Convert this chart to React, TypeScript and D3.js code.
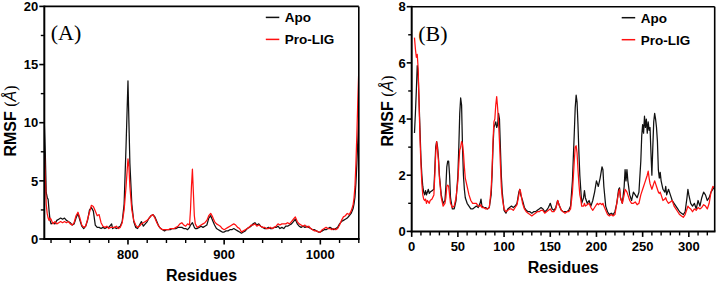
import React from "react";
import * as d3 from "d3";

// ---------- Panel A data (residues 713-1040) ----------
const residuesA = [713,714,715,716,717,718,719,720,722,724,726,728,730,732,734,736,738,740,742,744,746,748,750,752,754,756,758,760,762,764,766,768,770,772,774,776,778,780,782,783,784,786,788,790,792,794,796,798,800,801,802,804,806,808,810,812,814,816,818,820,822,824,826,828,830,832,834,836,838,840,842,844,846,848,850,852,854,856,858,860,862,864,865,866,867,868,869,870,872,874,876,878,880,882,884,886,888,890,892,894,896,898,900,902,904,906,908,910,912,914,916,918,920,922,924,926,928,930,932,934,936,938,940,942,944,946,948,950,952,954,956,958,960,962,964,966,968,970,972,974,976,978,980,982,984,986,988,990,992,994,996,998,1000,1002,1004,1006,1008,1010,1012,1014,1016,1018,1020,1022,1024,1026,1028,1030,1032,1034,1035,1036,1037,1038,1039,1040];
const apoA = [10.0,7.5,4.0,3.6,3.4,2.4,1.6,1.3,1.4,1.3,1.6,1.7,1.8,1.7,1.8,1.6,1.5,1.4,1.2,1.3,1.8,2.2,1.6,1.1,0.9,1.1,1.6,2.5,2.7,2.4,1.2,1.0,1.0,0.9,1.0,0.9,1.0,1.0,1.2,1.3,0.9,1.0,0.9,1.0,1.1,1.5,3.0,8.0,13.6,10.0,6.5,3.0,1.5,1.0,0.9,1.2,1.5,1.1,1.3,1.5,1.8,2.0,2.1,1.9,1.5,1.1,0.9,0.8,0.7,0.8,0.8,0.8,0.9,0.9,0.9,1.0,1.0,1.0,0.9,0.9,0.8,1.0,1.2,1.3,1.4,1.2,1.0,0.9,0.9,1.0,1.1,1.0,1.1,1.2,1.8,2.0,1.6,1.2,0.9,0.8,0.7,0.6,0.6,0.7,0.7,0.8,0.8,0.9,0.8,0.7,0.6,0.5,0.6,0.7,0.9,1.0,1.1,1.3,1.4,1.2,1.3,1.1,1.0,0.9,0.9,1.0,0.9,0.9,1.0,1.0,1.1,0.9,1.0,0.9,1.1,1.1,1.2,1.3,1.5,1.7,1.3,1.1,1.0,1.1,1.0,1.1,1.0,0.9,0.8,0.8,0.7,0.6,0.6,0.7,0.8,0.8,0.9,1.0,0.9,0.8,0.9,1.0,1.3,1.5,1.6,1.7,1.8,2.0,2.2,2.6,3.0,3.6,4.8,6.5,8.5,10.5];
const ligA = [7.6,5.5,3.0,2.2,1.8,1.6,1.8,1.7,1.3,1.5,1.3,1.4,1.5,1.4,1.5,1.4,1.5,1.3,1.2,1.4,2.0,2.3,1.8,1.2,1.0,1.1,1.7,2.3,2.9,2.8,2.4,2.0,2.1,1.4,1.1,1.0,1.1,0.9,1.0,1.0,1.0,1.0,1.1,0.9,1.0,1.4,2.5,4.5,6.9,6.2,4.5,2.5,1.6,1.2,1.0,1.1,1.3,1.4,1.5,1.6,1.8,2.0,2.1,1.8,1.4,1.1,0.9,0.8,0.8,0.8,0.8,0.9,0.9,0.9,1.0,1.1,1.3,1.4,1.2,1.1,1.3,1.2,2.5,4.5,6.0,4.0,2.0,1.3,1.0,1.1,1.2,1.3,1.4,1.6,2.0,2.2,1.9,1.5,1.3,1.2,1.1,0.9,0.8,0.9,1.0,1.1,1.2,1.3,1.2,1.0,0.9,0.6,0.7,0.8,0.9,1.0,1.2,1.2,1.3,1.1,1.2,1.1,1.0,1.0,0.9,0.9,1.0,0.9,1.0,1.1,1.3,1.2,1.3,1.3,1.3,1.4,1.3,1.5,1.7,1.9,1.5,1.3,1.2,1.1,1.2,1.0,1.1,0.9,0.8,0.7,0.7,0.6,0.6,0.8,0.9,1.0,0.9,0.9,0.8,0.9,0.8,0.9,1.2,1.6,1.9,2.0,2.2,2.1,2.4,2.9,3.5,4.5,6.5,9.0,12.0,14.6];

// ---------- Panel B data (residues 3-328) ----------
const residuesB = [3,4,5,6,7,8,9,10,11,12,13,14,15,16,17,18,19,20,22,24,25,26,27,28,29,30,32,34,36,37,38,39,40,41,42,44,46,48,50,51,52,53,54,55,56,57,58,60,62,64,66,68,70,72,74,75,76,78,80,82,84,86,87,88,89,90,91,92,93,94,95,96,97,98,100,102,104,106,108,110,112,114,116,117,118,120,122,124,126,128,130,132,134,136,138,140,142,144,146,148,150,152,154,156,158,160,162,164,166,168,170,172,174,176,177,178,179,180,181,182,183,184,186,187,188,190,192,194,196,198,200,201,202,204,206,207,208,210,212,214,216,218,220,222,224,225,226,228,230,231,232,233,234,236,238,240,242,244,246,248,249,250,251,252,253,254,255,256,257,258,259,260,261,262,263,264,265,266,267,268,269,270,272,274,275,276,278,280,282,284,286,288,290,292,294,296,298,299,300,302,304,306,308,310,312,314,316,318,320,322,324,326,328];
const apoB = [3.5,4.2,5.0,5.9,5.6,4.6,3.6,2.6,2.0,1.6,1.4,1.3,1.45,1.3,1.4,1.5,1.35,1.4,1.45,1.5,2.2,3.0,3.2,3.0,2.6,2.0,1.3,1.0,1.1,1.6,2.3,2.5,2.5,2.0,1.2,0.8,0.8,1.1,2.0,3.0,4.2,4.75,4.5,3.0,2.0,1.5,1.2,1.0,0.9,0.8,0.8,0.85,0.9,0.85,1.0,1.15,0.9,0.85,0.85,0.8,0.85,1.3,2.0,3.0,3.7,3.8,3.9,3.7,3.8,4.2,4.0,3.0,2.0,1.4,0.75,0.65,0.8,0.85,0.9,0.85,0.9,1.0,1.4,1.5,1.3,1.1,0.85,0.75,0.7,0.7,0.65,0.7,0.7,0.75,0.8,0.85,0.8,0.7,0.75,0.85,1.0,0.8,0.75,0.85,1.1,0.9,0.75,0.7,0.7,0.7,0.75,0.9,1.8,3.5,4.4,4.85,4.6,3.8,2.8,2.0,1.5,1.0,1.2,1.45,1.2,1.0,1.1,0.9,1.1,1.4,1.8,1.7,1.6,1.9,2.3,2.2,1.6,0.9,0.7,0.6,0.65,0.6,0.7,1.0,1.5,1.55,1.2,1.0,1.6,2.2,1.8,2.2,1.8,1.3,1.1,1.4,1.3,1.2,1.4,2.5,3.4,3.8,3.5,4.1,3.7,4.0,3.5,3.9,3.6,3.7,2.8,2.0,3.0,3.9,4.2,4.0,3.7,3.2,2.2,1.9,2.1,1.8,1.5,1.4,1.6,1.3,1.5,1.3,1.1,1.0,0.9,0.8,0.7,0.65,0.6,0.7,1.2,1.5,1.3,1.0,0.9,1.0,0.8,1.1,0.9,1.2,1.4,1.3,1.1,1.2,1.4,1.5,1.6];
const ligB = [6.9,6.5,6.2,6.3,5.8,4.5,3.3,2.4,1.7,1.3,1.15,1.1,1.15,1.0,1.1,1.05,1.0,1.1,1.15,1.3,2.0,2.8,3.2,2.9,2.5,1.9,1.2,0.9,1.0,1.2,1.6,1.65,1.6,1.3,1.0,0.85,0.9,1.2,1.8,2.4,2.9,3.0,3.2,3.1,2.8,2.3,1.9,1.6,1.3,1.1,1.0,1.0,1.0,0.9,0.9,0.95,0.85,0.85,0.8,0.8,0.85,1.5,2.2,3.2,3.9,4.0,4.5,4.8,4.4,3.9,3.2,2.4,1.6,1.2,0.8,0.7,0.75,0.8,0.8,0.75,0.85,0.95,1.3,1.5,1.4,1.0,0.8,0.7,0.65,0.6,0.55,0.6,0.65,0.7,0.7,0.75,0.75,0.65,0.7,0.75,0.8,0.7,0.7,0.8,1.1,0.9,0.75,0.7,0.65,0.7,0.7,0.8,1.4,2.5,3.0,3.05,2.8,2.2,1.7,1.3,1.15,0.9,0.9,1.0,0.9,0.95,1.0,0.85,0.75,0.85,0.95,1.0,0.95,1.0,0.95,1.0,0.9,0.75,0.6,0.55,0.6,0.55,0.6,1.0,1.4,1.5,1.2,1.0,1.3,1.5,1.45,1.4,1.3,1.1,1.0,1.0,1.05,0.95,1.0,1.3,1.4,1.5,1.6,1.7,1.8,1.9,2.0,2.15,1.9,1.7,1.6,1.5,1.6,1.7,1.8,1.7,1.6,1.5,1.4,1.35,1.4,1.3,1.1,1.15,1.2,1.1,1.0,1.05,1.1,0.9,0.8,0.7,0.6,0.55,0.5,0.6,0.8,0.9,0.85,0.8,0.7,0.8,0.75,0.85,0.8,0.85,0.95,0.9,0.8,1.0,1.4,1.6,1.55];

// ---------- ticks / labels ----------
const yTicksA = [0, 5, 10, 15, 20];
const yMinorA = [2.5, 7.5, 12.5, 17.5];
const xTicksA = [800, 900, 1000];
const xMinorA = [720, 740, 760, 780, 820, 840, 860, 880, 920, 940, 960, 980, 1020, 1040];
const yTicksB = [0, 2, 4, 6, 8];
const yMinorB = [1, 3, 5, 7];
const xTicksB = [0, 50, 100, 150, 200, 250, 300];
const xMinorB = [10, 20, 30, 40, 60, 70, 80, 90, 110, 120, 130, 140, 160, 170, 180, 190, 210, 220, 230, 240, 260, 270, 280, 290, 310, 320];
const seriesNames = ["Apo", "Pro-LIG"];
const seriesColors = ["#111111", "#ff1010"];

const SANS = "'Liberation Sans', Arial, Helvetica, sans-serif";
const SERIF = "'Liberation Serif', 'Times New Roman', serif";

type PanelProps = {
  label: string;
  residues: number[];
  apo: number[];
  lig: number[];
  xDomain: [number, number];
  yDomain: [number, number];
  left: number; right: number; top: number; bottom: number;
  yTicks: number[]; yMinor: number[]; xTicks: number[]; xMinor: number[];
  yLabelX: number; yLabelY: number;
};

function Panel(p: PanelProps) {
  const x = d3.scaleLinear().domain(p.xDomain).range([p.left, p.right]);
  const y = d3.scaleLinear().domain(p.yDomain).range([p.bottom, p.top]);
  const line = d3.line<number>().x((_, i) => x(p.residues[i])).y((d) => y(d));
  const series = [p.apo, p.lig];
  const cx = (p.left + p.right) / 2;
  const legX = p.right - 93;
  return (
    <g>
      <defs>
        <clipPath id={"clip" + p.label}>
          <rect x={p.left} y={p.top - 1} width={p.right - p.left} height={p.bottom - p.top + 1} />
        </clipPath>
      </defs>
      <g clipPath={`url(#clip${p.label})`}>
        {series.map((s, i) => (
          <path key={i} d={line(s) || ""} fill="none" stroke={seriesColors[i]} strokeWidth={1.25} strokeLinejoin="round" />
        ))}
      </g>
      {/* frame */}
      <line x1={p.left} x2={p.right} y1={p.top} y2={p.top} stroke="#000" strokeWidth={1.6} />
      <line x1={p.right} x2={p.right} y1={p.top} y2={p.bottom} stroke="#000" strokeWidth={1.6} />
      <line x1={p.left} x2={p.left} y1={p.top - 0.8} y2={p.bottom + 1} stroke="#000" strokeWidth={2} />
      <line x1={p.left - 1} x2={p.right + 0.8} y1={p.bottom} y2={p.bottom} stroke="#000" strokeWidth={2} />
      {/* y ticks */}
      {p.yTicks.map((t) => (
        <g key={"y" + t}>
          <line x1={p.left - 5} x2={p.left} y1={y(t)} y2={y(t)} stroke="#000" strokeWidth={1.6} />
          <text x={p.left - 6} y={y(t)} dy="0.36em" textAnchor="end" fontFamily={SANS} fontWeight="bold" fontSize={13}>{t}</text>
        </g>
      ))}
      {p.yMinor.map((t) => (
        <line key={"ym" + t} x1={p.left - 3.5} x2={p.left} y1={y(t)} y2={y(t)} stroke="#000" strokeWidth={1.4} />
      ))}
      {/* x ticks */}
      {p.xTicks.map((t) => (
        <g key={"x" + t}>
          <line x1={x(t)} x2={x(t)} y1={p.bottom} y2={p.bottom + 5.5} stroke="#000" strokeWidth={1.6} />
          <text x={x(t)} y={p.bottom + 19.5} textAnchor="middle" fontFamily={SANS} fontWeight="bold" fontSize={13}>{t}</text>
        </g>
      ))}
      {p.xMinor.map((t) => (
        <line key={"xm" + t} x1={x(t)} x2={x(t)} y1={p.bottom} y2={p.bottom + 4} stroke="#000" strokeWidth={1.4} />
      ))}
      {/* axis titles */}
      <text x={cx} y={p.bottom + 41.5} textAnchor="middle" fontFamily={SANS} fontWeight="bold" fontSize={16}>Residues</text>
      <text transform={`translate(${p.yLabelX},${p.yLabelY}) rotate(-90)`} textAnchor="middle" fontFamily={SANS} fontWeight="bold" fontSize={16}>
        RMSF <tspan fontFamily={SERIF} fontWeight="normal">(</tspan><tspan fontFamily={SANS} fontWeight="normal" fontStyle="italic">Å</tspan><tspan fontFamily={SERIF} fontWeight="normal">)</tspan>
      </text>
      {/* panel label */}
      <text x={p.left + 6.5} y={p.top + 34} fontFamily={SERIF} fontSize={22}>{`(${p.label})`}</text>
      {/* legend */}
      {seriesNames.map((n, i) => (
        <g key={n}>
          <line x1={legX} x2={legX + 13.5} y1={p.top + 11 + i * 22} y2={p.top + 11 + i * 22} stroke={seriesColors[i]} strokeWidth={1.5} />
          <text x={legX + 19} y={p.top + 11 + i * 22} dy="0.36em" fontFamily={SANS} fontWeight="bold" fontSize={13.5}>{n}</text>
        </g>
      ))}
    </g>
  );
}

export default function App() {
  return (
    <div style={{ position: "fixed", left: 0, top: 0 }}>
      <svg width={718} height={283} style={{ display: "block", background: "#fff" }}>
        <Panel label="A" residues={residuesA} apo={apoA} lig={ligA}
          xDomain={[713, 1040]} yDomain={[0, 20]}
          left={44.3} right={358.8} top={6.4} bottom={239}
          yTicks={yTicksA} yMinor={yMinorA} xTicks={xTicksA} xMinor={xMinorA}
          yLabelX={16} yLabelY={121} />
        <Panel label="B" residues={residuesB} apo={apoB} lig={ligB}
          xDomain={[0, 328]} yDomain={[0, 8]}
          left={411.7} right={714.7} top={6.7} bottom={231.4}
          yTicks={yTicksB} yMinor={yMinorB} xTicks={xTicksB} xMinor={xMinorB}
          yLabelX={393} yLabelY={111} />
      </svg>
    </div>
  );
}
